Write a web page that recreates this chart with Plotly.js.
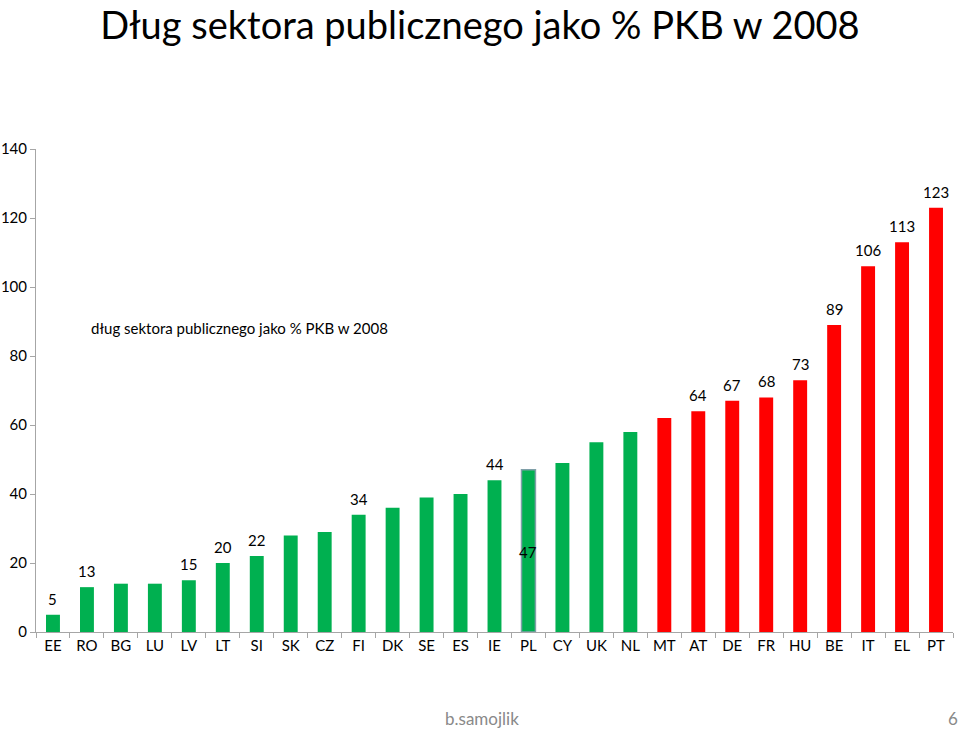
<!DOCTYPE html>
<html>
<head>
<meta charset="utf-8">
<script src="https://cdn.plot.ly/plotly-3.0.1.min.js"></script>
<style>html,body{margin:0;padding:0;background:#fff;}#chart{width:960px;height:731px;}</style>
</head>
<body>
<div id="chart"></div>
<script>
const countries = ["EE","RO","BG","LU","LV","LT","SI","SK","CZ","FI","DK","SE","ES","IE","PL","CY","UK","NL","MT","AT","DE","FR","HU","BE","IT","EL","PT"];
const debt = [5,13,14,14,15,20,22,28,29,34,36,39,40,44,47,49,55,58,62,64,67,68,73,89,106,113,123];
const shownLabels = ["5","13",null,null,"15","20","22",null,null,"34",null,null,null,"44","47",null,null,null,null,"64","67","68","73","89","106","113","123"];
const highlight = "PL";
const redFrom = "MT";
const seriesName = "dług sektora publicznego jako % PKB w 2008";
const chartTitle = "Dług sektora publicznego jako % PKB w 2008";
const yTicks = [0,20,40,60,80,100,120,140];

const GREEN = "#00B050", RED = "#FF0000";
const redIdx = countries.indexOf(redFrom);
const colors = countries.map((c,i) => i >= redIdx ? RED : GREEN);
const lineColors = countries.map((c,i) => c === highlight ? "#7F9FA8" : "rgba(0,0,0,0)");
const lineWidths = countries.map(c => c === highlight ? 1.5 : 0);

const font = "Lato, 'Open Sans', sans-serif";

const trace = {
  type: "bar",
  x: countries,
  y: debt,
  name: seriesName,
  marker: {color: colors, line: {color: lineColors, width: lineWidths}},
  hoverinfo: "x+y"
};

const annotations = [];
countries.forEach((c,i) => {
  const t = shownLabels[i];
  if (t === null) return;
  const inside = c === highlight;
  annotations.push({
    x: c, y: debt[i], xref: "x", yref: "y",
    text: t, showarrow: false,
    yanchor: "middle", xanchor: "center",
    yshift: inside ? -82 : 16,
    font: {family: font, size: 15, color: "#000"}
  });
});
annotations.push({
  xref: "paper", yref: "paper", x: 0.058, y: 0.63,
  text: seriesName, showarrow: false, xanchor: "left", yanchor: "middle",
  font: {family: font, size: 15, color: "#000"}
});
annotations.push({
  xref: "paper", yref: "paper", x: 0.486, y: -0.18,
  text: "b.samojlik", showarrow: false, xanchor: "center", yanchor: "middle",
  font: {family: font, size: 17, color: "#898989"}
});
annotations.push({
  xref: "paper", yref: "paper", x: 1.0, y: -0.18,
  text: "6", showarrow: false, xanchor: "center", yanchor: "middle",
  font: {family: font, size: 17, color: "#898989"}
});

const layout = {
  width: 960, height: 731,
  margin: {l: 36, r: 7, t: 149, b: 99},
  paper_bgcolor: "#fff", plot_bgcolor: "#fff",
  title: {text: chartTitle, x: 0.5, xanchor: "center", yref: "container", y: 0.965, yanchor: "middle",
          font: {family: font, size: 38, color: "#000"}},
  showlegend: false,
  bargap: 0.59,
  xaxis: {
    type: "category", range: [-0.5, countries.length - 0.5],
    showline: true, linecolor: "#A6A6A6", linewidth: 1,
    ticks: "outside", tickson: "boundaries", ticklen: 5, tickcolor: "#A6A6A6",
    showgrid: false, zeroline: false,
    tickfont: {family: font, size: 15, color: "#000"}
  },
  yaxis: {
    range: [0, 140], tickvals: yTicks, ticktext: yTicks.map(String),
    showline: true, linecolor: "#A6A6A6", linewidth: 1,
    ticks: "outside", ticklen: 5, tickcolor: "#A6A6A6",
    showgrid: false, zeroline: false,
    tickfont: {family: font, size: 15, color: "#000"}
  },
  annotations: annotations
};

Plotly.newPlot("chart", [trace], layout, {displayModeBar: false, staticPlot: true});
</script>
</body>
</html>
